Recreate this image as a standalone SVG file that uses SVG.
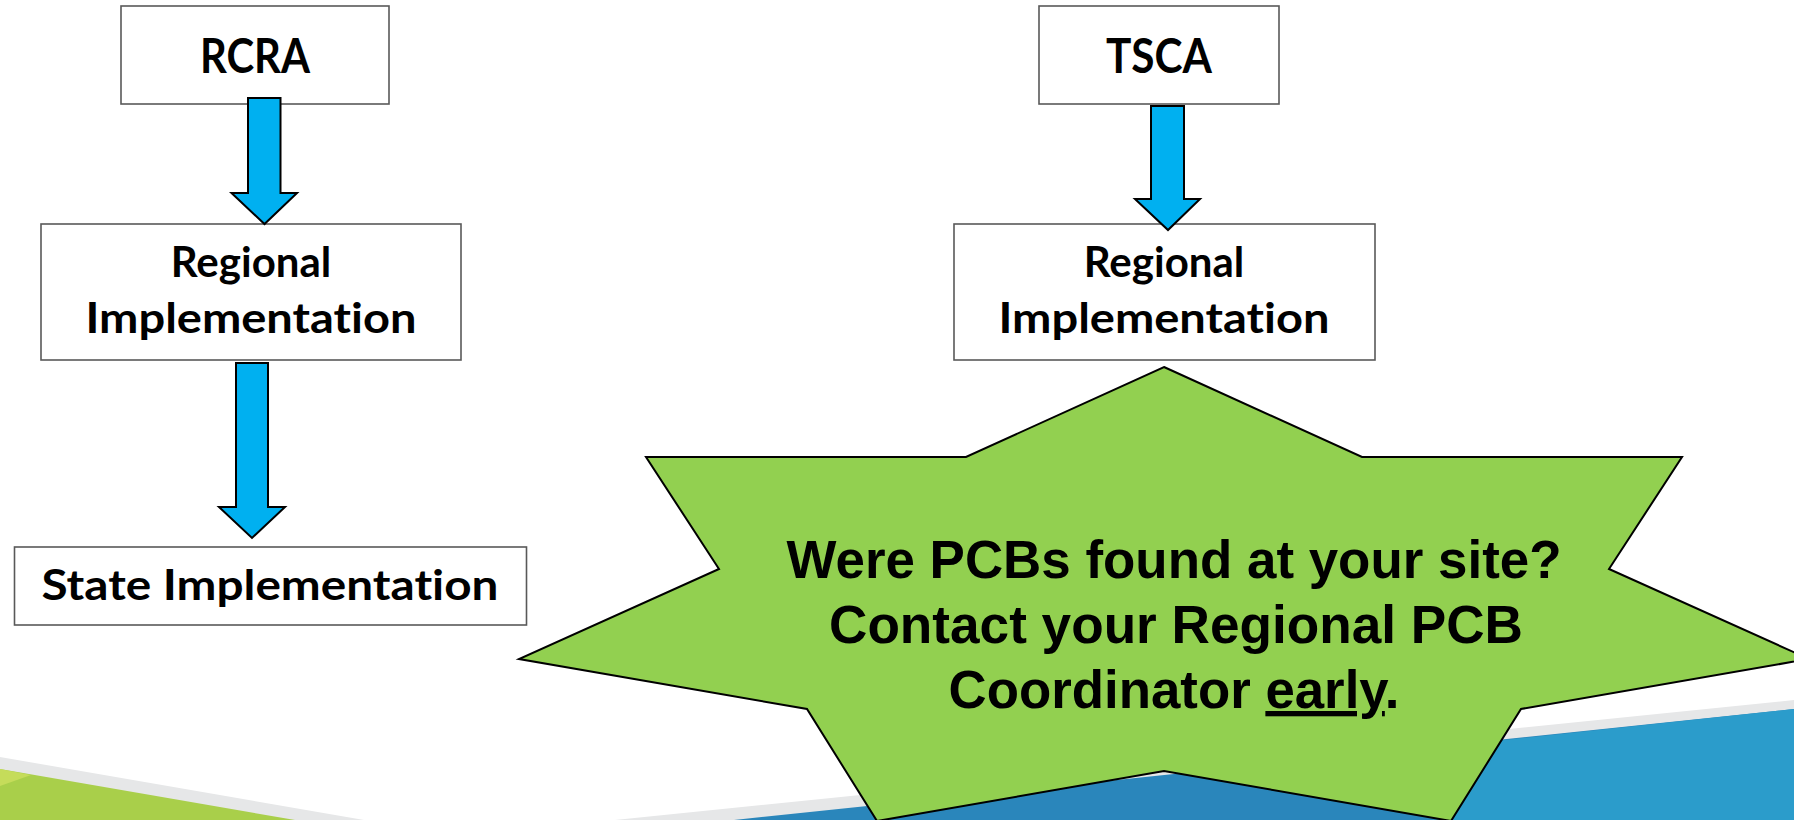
<svg xmlns="http://www.w3.org/2000/svg" width="1794" height="820" viewBox="0 0 1794 820">
<style>
.box{fill:#fff;stroke:#595959;stroke-width:1.6}
.arrow{fill:#00B0F0;stroke:#000;stroke-width:2;stroke-linejoin:miter}
.lbl{font-family:Lato,"Open Sans","Liberation Sans",sans-serif;font-weight:700;fill:#000;text-anchor:middle;font-variant-ligatures:none;font-feature-settings:"liga" 0,"clig" 0}
.star{fill:#92D050;stroke:#000;stroke-width:2;stroke-linejoin:miter}
.stxt{font-family:"Liberation Sans",Arial,sans-serif;font-weight:700;font-size:53px;fill:#000;text-anchor:middle}
</style>
<rect width="1794" height="820" fill="#fff"/>
<g id="background">
<polygon points="0,757 364,820 0,820" fill="#E6E7E8"/>
<polygon points="0,769 295,820 0,820" fill="#A9CF4A"/>
<polygon points="0,769 31,775 0,786" fill="#C5DC5A"/>
<polygon points="615,820 1794,700 1794,820" fill="#E6E7E8"/>
<polygon points="734,820 1794,709 1794,820" fill="#2A86BB"/>
<polygon points="1440,822 1495,741 1794,709 1794,822" fill="#2B9CCB"/>
</g>
<g id="rcra">
<rect class="box" x="121" y="6" width="268" height="98"/>
<text class="lbl" x="255" y="73" font-size="48" textLength="110" lengthAdjust="spacingAndGlyphs">RCRA</text>
</g>
<g id="regional-rcra">
<rect class="box" x="41" y="224" width="420" height="136"/>
<text class="lbl" x="251" y="277" font-size="42">Regional</text>
<text class="lbl" x="251" y="333" font-size="42" textLength="331" lengthAdjust="spacingAndGlyphs">Implementation</text>
</g>
<g id="state">
<rect class="box" x="14.5" y="547" width="512" height="78"/>
<text class="lbl" x="270" y="600" font-size="42" textLength="457" lengthAdjust="spacingAndGlyphs">State Implementation</text>
</g>
<g id="tsca">
<rect class="box" x="1039" y="6" width="240" height="98"/>
<text class="lbl" x="1159" y="73" font-size="48" textLength="106" lengthAdjust="spacingAndGlyphs">TSCA</text>
</g>
<g id="regional-tsca">
<rect class="box" x="954" y="224" width="421" height="136"/>
<text class="lbl" x="1164" y="277" font-size="42">Regional</text>
<text class="lbl" x="1164" y="333" font-size="42" textLength="331" lengthAdjust="spacingAndGlyphs">Implementation</text>
</g>
<g id="connectors">
<polygon class="arrow" points="248,98 280.5,98 280.5,193 297,193 264.5,224 231.5,193 248,193"/>
<polygon class="arrow" points="236,363 268,363 268,507 285,507 252,538 219,507 236,507"/>
<polygon class="arrow" points="1151,106 1184,106 1184,199 1200,199 1168,230 1135,199 1151,199"/>
</g>
<g id="callout">
<polygon class="star" points="1164,367 1362,457 1682,457 1609,569 1809,659 1521,709 1451,821 1164,771 877,821 807,709 519,659 719,569 646,457 966,457"/>
<text class="stxt" x="1174" y="578" textLength="775" lengthAdjust="spacingAndGlyphs">Were PCBs found at your site?</text>
<text class="stxt" x="1176" y="643" textLength="694" lengthAdjust="spacingAndGlyphs">Contact your Regional PCB</text>
<text class="stxt" x="1174" y="708" textLength="451" lengthAdjust="spacingAndGlyphs">Coordinator <tspan text-decoration="underline">early</tspan>.</text>
</g>
</svg>
